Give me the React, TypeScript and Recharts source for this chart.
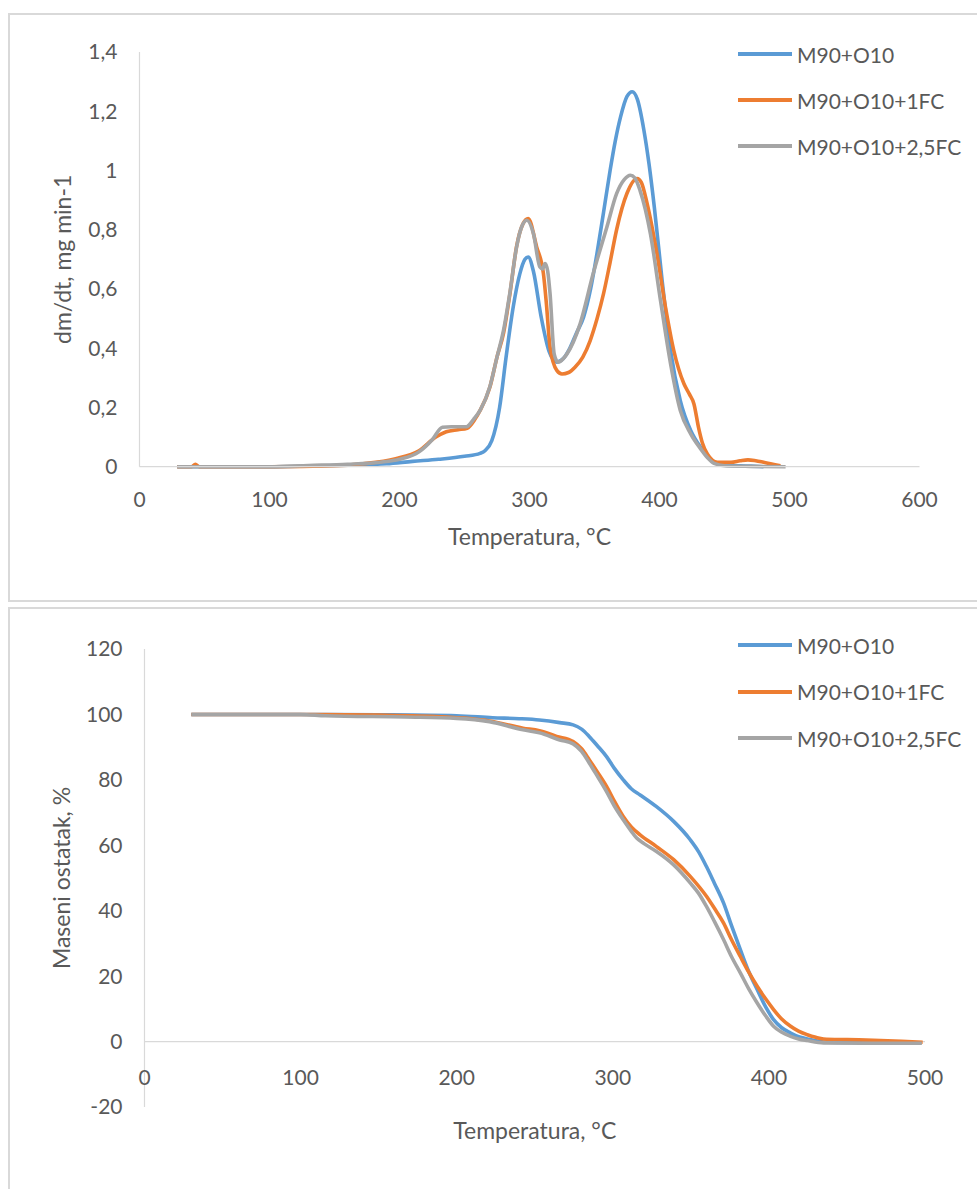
import React from 'react';
import { LineChart, Line, XAxis, YAxis, Legend, ReferenceLine } from 'recharts';

const SERIES_NAMES = ['M90+O10', 'M90+O10+1FC', 'M90+O10+2,5FC'];
const COLORS = ['#5B9BD5', '#ED7D31', '#A5A5A5'];

// ---------- DTG (top chart) ----------
const DTG_X_TICKS = [0, 100, 200, 300, 400, 500, 600];
const DTG_Y_TICKS = [0, 0.2, 0.4, 0.6, 0.8, 1, 1.2, 1.4];

const dtgTempA = [29, 60, 100, 130, 160, 190, 210, 230, 250, 262, 266, 271, 277, 282, 287.5, 292.5, 296.5, 299, 303, 309, 315, 321, 326, 331, 336, 341.6, 347, 351.9, 357, 362, 366, 370, 375, 379, 383, 388, 392, 396, 402, 408.5, 416, 424, 431.7, 438, 442, 450, 470, 480];
const dtgA = [0, 0, 0, 0.002, 0.005, 0.01, 0.018, 0.025, 0.035, 0.045, 0.055, 0.088, 0.2, 0.37, 0.54, 0.65, 0.7, 0.708, 0.66, 0.505, 0.39, 0.353, 0.365, 0.4, 0.45, 0.505, 0.6, 0.72, 0.86, 1.0, 1.1, 1.18, 1.25, 1.266, 1.24, 1.136, 1.02, 0.877, 0.63, 0.392, 0.223, 0.122, 0.065, 0.03, 0.015, 0.005, 0.002, 0];

const dtgTempB = [29, 40, 43, 46, 100, 150, 172, 197, 215, 228, 236, 245, 252, 258, 262, 269.5, 275, 280, 285, 290, 295, 299, 305.5, 310.7, 313, 315.8, 321, 325, 330, 335, 341, 346.7, 352, 357, 362, 367, 375, 382.8, 386, 390.5, 398, 404.6, 411, 418.8, 423, 426.5, 430, 433, 436.8, 444.6, 455, 462, 468, 474, 480, 493];
const dtgB = [0, 0, 0.008, 0, 0, 0.003, 0.01, 0.027, 0.054, 0.1, 0.118, 0.125, 0.13, 0.16, 0.19, 0.268, 0.37, 0.45, 0.585, 0.742, 0.82, 0.838, 0.742, 0.652, 0.55, 0.403, 0.325, 0.313, 0.318, 0.336, 0.37, 0.426, 0.5, 0.585, 0.69, 0.8, 0.923, 0.973, 0.96, 0.888, 0.72, 0.539, 0.392, 0.28, 0.245, 0.212, 0.133, 0.08, 0.043, 0.015, 0.015, 0.02, 0.023, 0.02, 0.015, 0.003];

const dtgTempC = [29, 100, 130, 160, 185, 200, 215, 225, 233, 240, 251.5, 257, 262, 269.5, 275, 280, 285, 290, 294, 298, 303, 308, 310, 312, 314, 315.8, 319, 322, 328.7, 339, 349, 359.6, 367, 373, 377.6, 381, 385, 393, 400.8, 408.5, 416, 424, 431.7, 437, 442, 450, 470, 497];
const dtgC = [0, 0, 0.004, 0.008, 0.015, 0.025, 0.05, 0.09, 0.133, 0.135, 0.135, 0.16, 0.19, 0.27, 0.37, 0.46, 0.59, 0.74, 0.81, 0.832, 0.787, 0.674, 0.668, 0.686, 0.66, 0.585, 0.38, 0.353, 0.38, 0.483, 0.652, 0.81, 0.922, 0.97, 0.984, 0.975, 0.933, 0.787, 0.56, 0.348, 0.19, 0.111, 0.06, 0.03, 0.011, 0.003, 0.001, 0];

// ---------- TG (bottom chart) ----------
const TG_X_TICKS = [0, 100, 200, 300, 400, 500];
const TG_Y_TICKS = [-20, 0, 20, 40, 60, 80, 100, 120];

const tgTempA = [30, 100, 150, 200, 223, 240, 253, 266, 274.6, 280, 285, 290, 296, 301, 306.7, 312, 317.5, 328, 339, 349.6, 355, 360, 365, 371, 376, 381.7, 387, 392.5, 398, 403, 408, 413.9, 419, 424.6, 437.5, 450, 470];
const tgA = [100, 100, 99.9, 99.6, 99.0, 98.7, 98.3, 97.5, 96.8, 95.5, 93.2, 90.5, 87.1, 83.5, 80, 77.2, 75.4, 71.8, 67.3, 61.7, 58, 53.5, 48.5, 42.3, 35.5, 28.1, 21.5, 15.9, 10.5, 6.7, 4.3, 2.6, 1.5, 0.8, -0.2, -0.3, -0.3];

const tgTempB = [30, 100, 150, 190, 221, 242.5, 253, 264, 274.6, 280, 285, 290, 296, 301, 306.7, 312, 317.5, 328, 339, 349.6, 360, 365, 371, 376, 381.7, 387, 392.5, 398, 403, 408, 413.9, 419, 424.6, 430, 435, 450, 467, 485, 498.5];
const tgB = [100, 100, 99.8, 99.3, 98.0, 95.8, 95, 93.3, 91.7, 89.5, 86.1, 82.5, 78, 73.5, 68.8, 65.5, 63.2, 59.6, 55.6, 50.5, 44.4, 40.8, 36.2, 31.2, 26, 21.3, 16.9, 13, 9.8, 7, 4.7, 3.2, 2.1, 1.3, 0.8, 0.6, 0.4, 0.1, -0.2];

const tgTempC = [30, 100, 116, 167.5, 200, 221, 242.5, 253, 266, 274.6, 280, 285, 290, 296, 301, 306.7, 312, 315.3, 320, 328, 339, 349.6, 355, 360, 365, 371, 376, 381.7, 387, 392.5, 398, 403, 408, 413.9, 419, 424.6, 435, 460, 498];
const tgC = [100, 100, 99.6, 99.2, 98.8, 97.8, 95.3, 94.4, 92.2, 91, 88.7, 85.1, 81.2, 76.4, 72, 67.8, 64.2, 62.2, 60.5, 58.1, 54, 48.5, 45.3, 41.3, 36.8, 31.1, 26, 21, 16.2, 11.8, 7.8, 4.7, 2.9, 1.6, 0.8, 0.3, -0.4, -0.5, -0.5];

const toPoints = (t: number[], v: number[]) => t.map((x, i) => ({ t: x, v: v[i] }));

const dtgSeries = [toPoints(dtgTempA, dtgA), toPoints(dtgTempB, dtgB), toPoints(dtgTempC, dtgC)];
const tgSeries = [toPoints(tgTempA, tgA), toPoints(tgTempB, tgB), toPoints(tgTempC, tgC)];

const FONT = "Lato, 'Open Sans', sans-serif";
const TEXT = '#595959';
const AXIS = '#D9D9D9';
const TICK_FS = 21;
const TITLE_FS = 23;
const LINE_W = 3.6;

const fmtComma = (v: number) => String(v).replace('.', ',');

const makeLegend = (rowH: number) => (props: any) => {
  const payload = props.payload || [];
  return (
    <div style={{ fontFamily: FONT }}>
      {payload.map((p: any, i: number) => (
        <div key={i} style={{ display: 'flex', alignItems: 'center', height: rowH }}>
          <svg width={54} height={6} style={{ marginRight: 5, display: 'block' }}>
            <line x1={0} y1={3} x2={54} y2={3} stroke={p.color} strokeWidth={3.8} />
          </svg>
          <span style={{ fontSize: TICK_FS, color: TEXT, whiteSpace: 'nowrap' }}>{p.value}</span>
        </div>
      ))}
    </div>
  );
};

const BottomXTick = (props: any) => {
  const { x, y, payload } = props;
  return (
    <text x={x} y={y} dy={-22.5} textAnchor="middle" fill={TEXT} fontSize={TICK_FS} fontFamily={FONT}>
      {payload.value}
    </text>
  );
};

const tickStyle = { fill: TEXT, fontSize: TICK_FS, fontFamily: FONT };
const titleStyle = { fill: TEXT, fontSize: TITLE_FS, fontFamily: FONT };

export default function App() {
  return (
    <div style={{ position: 'absolute', left: 0, top: 0, width: 977, height: 1189, overflow: 'hidden', background: '#fff', fontFamily: FONT }}>
      <div style={{ position: 'absolute', left: 8, top: 13, width: 1000, height: 589, border: `2px solid ${AXIS}`, boxSizing: 'border-box' }} />
      <div style={{ position: 'absolute', left: 8, top: 607, width: 1000, height: 700, border: `2px solid ${AXIS}`, boxSizing: 'border-box' }} />

      <div style={{ position: 'absolute', left: 0, top: 0 }}>
        <LineChart width={977} height={600} margin={{ top: 52, right: 57.5, left: 20, bottom: 53.3 }}>
          <XAxis
            type="number"
            dataKey="t"
            domain={[0, 600]}
            ticks={DTG_X_TICKS}
            interval={0}
            axisLine={{ stroke: AXIS, strokeWidth: 1.2 }}
            tickLine={false}
            tickSize={0}
            tickMargin={25}
            tick={tickStyle}
            height={80}
            label={{ value: 'Temperatura, °C', position: 'insideBottom', offset: 2, style: titleStyle }}
          />
          <YAxis
            type="number"
            domain={[0, 1.4]}
            ticks={DTG_Y_TICKS}
            interval={0}
            tickFormatter={fmtComma}
            axisLine={{ stroke: AXIS, strokeWidth: 1.2 }}
            tickLine={false}
            tickSize={0}
            tickMargin={22}
            tick={tickStyle}
            width={119.5}
            label={{ value: 'dm/dt, mg min-1', angle: -90, position: 'insideLeft', offset: 43, style: { ...titleStyle, textAnchor: 'middle' } }}
          />
          <Legend
            layout="vertical"
            align="center"
            verticalAlign="middle"
            wrapperStyle={{ position: 'absolute', left: 738, top: 31, width: 235 }}
            content={makeLegend(46)}
          />
          {dtgSeries.map((d, i) => (
            <Line
              key={SERIES_NAMES[i]}
              data={d}
              dataKey="v"
              name={SERIES_NAMES[i]}
              type="monotone"
              stroke={COLORS[i]}
              strokeWidth={LINE_W}
              dot={false}
              activeDot={false}
              isAnimationActive={false}
            />
          ))}
        </LineChart>
      </div>

      <div style={{ position: 'absolute', left: 0, top: 600 }}>
        <LineChart width={977} height={589} margin={{ top: 49, right: 52, left: 20, bottom: 22 }}>
          <XAxis
            type="number"
            dataKey="t"
            domain={[0, 500]}
            ticks={TG_X_TICKS}
            interval={0}
            axisLine={false}
            tickLine={false}
            tickSize={0}
            tickMargin={0}
            tick={<BottomXTick />}
            height={60}
            label={{ value: 'Temperatura, °C', position: 'insideBottom', offset: 28, style: titleStyle }}
          />
          <YAxis
            type="number"
            domain={[-20, 120]}
            ticks={TG_Y_TICKS}
            interval={0}
            axisLine={{ stroke: AXIS, strokeWidth: 1.2 }}
            tickLine={false}
            tickSize={0}
            tickMargin={22}
            tick={tickStyle}
            width={124.5}
            label={{ value: 'Maseni ostatak, %', angle: -90, position: 'insideLeft', offset: 42, style: { ...titleStyle, textAnchor: 'middle' } }}
          />
          <ReferenceLine y={0} stroke={AXIS} strokeWidth={1.2} ifOverflow="extendDomain" />
          <Legend
            layout="vertical"
            align="center"
            verticalAlign="middle"
            wrapperStyle={{ position: 'absolute', left: 738, top: 22, width: 235 }}
            content={makeLegend(46.5)}
          />
          {tgSeries.map((d, i) => (
            <Line
              key={SERIES_NAMES[i]}
              data={d}
              dataKey="v"
              name={SERIES_NAMES[i]}
              type="monotone"
              stroke={COLORS[i]}
              strokeWidth={LINE_W}
              dot={false}
              activeDot={false}
              isAnimationActive={false}
            />
          ))}
        </LineChart>
      </div>
    </div>
  );
}
